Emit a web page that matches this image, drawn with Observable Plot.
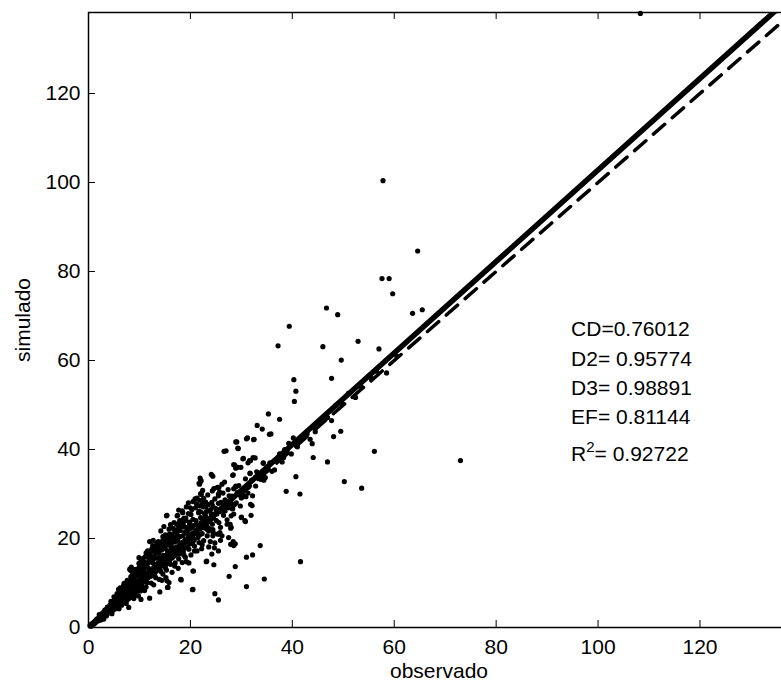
<!DOCTYPE html>
<html><head><meta charset="utf-8">
<script src="https://cdn.jsdelivr.net/npm/d3@7"></script>
<script src="https://cdn.jsdelivr.net/npm/@observablehq/plot@0.6"></script>
<style>body{margin:0;background:#fff}</style>
</head><body><div id="chart"></div>
<script>
// [observado, simulado]
const puntosDispersos = [
[108.3,138.0],[57.8,100.4],[64.6,84.6],[57.6,78.4],[59.0,78.4],[59.7,75.0],[46.7,71.8],[48.9,70.3],
[39.4,67.7],[63.6,70.6],[65.5,71.4],[37.2,63.3],[46.0,63.1],[52.9,64.3],[57.0,62.6],[49.6,60.1],
[40.3,55.7],[47.7,56.0],[40.7,53.1],[40.4,50.8],[52.3,51.8],[35.3,48.0],[37.5,46.8],[33.1,45.4],
[34.1,44.6],[35.8,43.5],[31.0,42.4],[32.4,42.2],[28.9,41.7],[29.4,40.2],[26.6,39.6],[27.0,39.7],
[30.3,37.9],[31.6,37.5],[31.3,37.0],[32.7,38.1],[34.3,37.0],[28.7,36.5],[28.9,35.8],[29.9,36.0],
[31.7,34.6],[28.3,34.2],[24.1,34.4],[24.4,34.0],[21.9,33.6],[22.1,33.0],[26.7,32.7],[25.3,31.5],
[28.9,31.6],[22.1,29.9],[25.5,30.0],[34.7,33.7],[30.9,29.4],[40.7,33.9],[38.8,30.6],[41.5,30.0],
[43.9,41.3],[44.1,38.2],[46.9,37.2],[48.1,42.9],[49.5,44.1],[50.2,32.8],[53.6,31.3],[56.1,39.6],
[73.0,37.5],[41.6,14.8],[34.5,10.9],[31.0,9.2],[24.8,7.6],[25.5,6.2],[33.7,18.4],[32.2,16.3],
[31.0,15.8],[28.8,13.7],[27.6,11.5],[23.1,14.8],[24.6,14.1],[20.4,8.5],[18.2,10.7],[20.6,12.7],
[15.8,10.1],[15.5,9.0],[28.4,19.3],[28.8,18.8],[22.3,18.6],[24.7,17.9],[25.5,17.2],[24.2,16.5],
[25.8,21.3],[23.6,21.7],[24.4,20.6],[27.8,23.2],[28.0,22.5],[30.0,24.8],[30.8,23.8],[28.3,26.7],
[28.0,25.1],[32.1,27.4],[31.9,25.2],
[35.5,43.4],[29.1,41.7],[31.2,42.6],[32.5,42.3],[29.3,40.3],[30.4,38.0],[31.8,37.5],[32.3,38.2],
[28.5,36.6],[29.3,36.0],[28.4,34.3],[31.7,34.7],[32.8,33.8],[34.3,36.9],[22.0,32.8],[21.8,32.2],
[25.6,31.5],[25.7,30.5],[25.5,29.6],[22.0,30.1],[21.2,27.8],[22.0,27.3],[23.0,27.1],[23.4,26.2],
[24.2,28.1],[24.4,27.3],[25.0,26.7],[26.8,28.7],[28.9,31.8],[30.6,29.5],[31.8,27.7],[28.2,26.7],
[28.5,25.5],[30.0,24.7],[30.7,24.0],[15.3,25.1],[17.4,25.1],[18.4,26.2],[18.7,24.5],[19.7,22.7],
[20.4,22.5],[22.0,24.7],[22.8,25.5],[23.8,22.1],[24.5,21.3],[25.3,21.0],[25.9,22.5],[27.2,23.2],
[27.9,22.3],[27.5,20.2],[27.9,18.7],[25.6,21.0],[25.9,19.6],[22.6,24.0],[22.9,23.2],[23.4,22.5],
[17.0,21.7],[17.7,22.5],[18.4,22.8],[19.3,21.7],[16.0,19.8],[15.3,19.5],[14.1,18.7],[20.7,19.8],
[21.7,19.1],[22.6,19.5],[23.9,19.3],[28.5,18.4],
[21.7,32.4],[22.1,30.0],[19.6,28.0],[20.5,28.3],[21.6,27.4],[22.6,27.1],[15.4,25.2],[17.5,25.2],
[18.5,25.8],[19.1,24.6],[18.3,24.0],[22.9,25.3],[22.6,23.2],[17.3,21.7],[17.9,21.9],[18.8,22.6],
[19.4,22.5],[12.0,19.3],[13.7,19.3],[14.3,18.7],[12.4,17.6],[13.2,18.0],[11.3,16.8],[15.9,20.1],
[16.4,21.0],[17.1,19.8],[14.9,18.0],[15.5,17.2],[16.3,17.8],[19.6,19.8],[20.4,18.9],[20.8,17.2],
[19.2,14.8],[19.7,14.5],[17.8,16.5],[18.6,17.1],[17.0,14.5],[23.2,14.9],[20.5,12.7],[18.1,10.8],
[15.2,11.2],[15.6,9.0],[20.5,8.6],[12.0,6.6],[7.9,4.5],[8.1,13.1],[8.5,12.7],[10.0,13.5],
[10.5,14.2],[5.9,8.6],[6.5,8.6],[9.8,7.1],[10.3,6.3],[14.0,8.0],[14.4,10.6],[8.2,12.9],[15.4,10.5],
[40.2,42.6],[39.8,39.0],[39.0,39.7],[42.9,43.5],[46.9,47.2],[52.4,51.7],[49.8,50.2],[44.5,44.0],
[55.5,56.0],[60.5,61.0],[36.5,37.5],[38.5,40.0]
];
const puntosBanda = [
[0.3,0.4],[0.5,0.3],[0.6,0.8],[0.8,0.6],[1.0,1.1],[1.1,0.8],[1.3,1.5],[1.4,1.1],[1.6,1.9],[1.7,1.4],
[1.9,2.0],[2.0,1.6],[2.2,2.6],[2.3,2.0],[2.5,2.4],[2.6,3.1],[2.8,2.3],[3.0,3.5],[3.1,2.7],[3.3,3.2],
[3.4,4.0],[3.6,3.0],[3.8,4.4],[3.9,3.5],[4.1,4.0],[4.2,5.0],[4.4,3.7],[4.6,5.3],[4.7,4.4],[4.9,4.1],
[5.0,5.9],[5.2,5.0],[5.3,4.5],[5.5,6.6],[5.6,5.3],[5.8,6.0],[5.9,4.9],[6.1,7.3],[6.2,6.3],[6.4,5.6],
[6.5,8.0],[6.6,6.8],[6.8,6.1],[7.0,8.6],[7.1,7.2],[7.2,6.4],[7.4,9.1],[7.5,7.8],[7.7,6.9],[7.9,8.4],
[8.0,9.8],[8.1,7.3],[8.3,8.9],[8.4,10.4],[8.6,7.7],[8.7,9.4],[8.9,11.0],[9.0,8.4],[9.2,9.9],[9.3,12.3],
[9.5,8.8],[9.6,10.5],[9.8,11.6],[9.9,9.2],[10.1,10.8],[10.2,12.4],[10.4,9.6],[10.5,11.3],[10.7,13.2],[10.8,10.2],
[11.0,11.8],[11.1,13.6],[11.3,10.6],[11.4,12.1],[11.6,14.4],[11.7,11.2],[11.9,12.6],[12.0,15.1],[12.2,11.5],[12.3,13.0],
[12.5,14.6],[12.6,12.0],[12.8,13.5],[12.9,16.0],[13.1,12.4],[13.2,14.2],[13.4,15.6],[13.5,12.9],[13.7,14.5],[13.8,16.7],
[14.0,13.2],[14.1,15.0],[14.3,17.4],[14.4,13.9],[14.6,15.3],[14.7,16.2],[14.9,14.0],[15.0,17.8],[15.2,15.8],[15.4,14.3],
[15.5,16.5],[15.7,18.5],[15.9,15.1],[16.0,16.9],[16.2,19.0],[16.4,15.6],[16.6,17.4],[16.8,20.3],[17.0,16.2],[17.2,18.0],
[17.4,20.9],[17.6,16.6],[17.8,18.5],[18.0,21.8],[18.2,17.2],[18.4,19.1],[18.6,23.0],[18.8,17.8],[19.0,19.7],[19.2,21.2],
[19.4,18.1],[19.6,20.3],[19.8,23.6],[20.0,18.8],[20.2,21.0],[20.5,24.3],[20.7,19.6],[21.0,21.6],[21.2,23.1],[21.5,20.2],
[21.8,22.4],[22.0,26.0],[22.3,21.1],[22.6,23.1],[23.0,24.8],[23.3,22.0],[23.6,24.0],[24.0,26.5],[24.3,23.2],[24.7,25.3],
[25.1,24.0],[25.5,27.9],[26.0,26.4],[26.5,25.2],[27.0,28.3],[27.5,26.9],[28.1,29.5],[28.6,27.6],[29.2,30.3],[30.0,29.1],
[30.6,31.4],[31.3,30.2],[32.0,33.1],[32.8,31.8],[33.5,34.6],[34.4,33.1],[35.2,36.0],[36.0,35.1],[37.1,37.8],[38.0,37.2]
];
const puntosDensos = [
[2.1,2.9],[2.4,1.7],[2.7,2.9],[3.2,3.9],[3.5,2.6],[3.7,4.6],[4.0,3.3],[4.3,4.6],[4.5,5.6],[4.8,3.9],
[5.1,6.3],[5.4,4.3],[5.7,7.0],[6.0,5.2],[6.3,7.8],[6.7,5.5],[6.9,7.7],[7.3,8.0],[7.6,6.2],[7.8,9.6],
[8.2,8.5],[8.5,6.9],[8.8,10.1],[9.1,11.5],[9.4,8.1],[9.7,12.9],[10.0,10.2],[10.3,11.9],[10.6,9.0],[10.9,12.8],
[11.2,14.6],[11.5,10.1],[11.8,13.3],[12.1,16.1],[12.4,12.2],[12.7,15.3],[13.0,11.6],[13.3,16.8],[13.6,13.8],[13.9,15.7],
[14.2,12.6],[14.5,17.6],[14.8,15.5],[15.1,13.4],[15.3,18.9],[15.6,16.0],[15.8,17.1],[16.1,14.2],[16.3,18.2],[16.5,20.1],
[16.7,16.0],[16.9,19.2],[17.1,21.6],[17.3,17.1],[17.5,19.6],[17.7,15.4],[17.9,20.4],[18.1,22.9],[18.3,18.0],[18.5,20.6],
[18.7,16.3],[18.9,21.4],[19.1,24.1],[19.3,19.2],[19.5,21.8],[19.7,17.6],[19.9,22.2],[20.1,25.4],[20.3,20.0],[20.6,22.9],
[20.8,18.3],[21.1,24.0],[21.3,21.2],[21.6,25.8],[21.9,20.9],[22.1,23.6],[22.4,27.9],[22.7,22.4],[23.0,25.9],[23.3,20.6],
[23.5,27.6],[23.8,23.9],[24.1,25.4],[24.4,22.0],[24.8,28.9],[25.2,25.5],[25.6,23.6],[26.0,28.1],[26.4,30.2],[26.8,26.2],
[27.2,24.2],[27.6,29.6],[28.0,27.8],[28.5,31.2],[29.0,28.0],[29.5,31.9],[29.8,27.3],[30.3,30.7],[30.8,33.4],[31.4,31.6],
[32.2,29.6],[33.0,35.0],[33.8,33.3],[34.6,35.4],[35.6,37.0],[36.5,35.4],[37.5,39.0],[38.3,38.2],[39.3,41.4],[41.0,40.6],
[41.8,42.9],[43.5,42.3],[45.2,46.1],[47.7,46.5],[48.5,49.9],[51.0,52.6],[53.5,54.0],[56.5,57.6],[58.5,57.2],
[9.0,13.0],[9.9,14.4],[10.8,15.6],[11.6,17.2],[12.6,18.4],[13.4,18.9],[14.6,20.4],[15.8,22.1],[16.8,23.6],[17.9,24.0],
[3.0,1.9],[4.6,3.1],[6.0,4.2],[7.4,5.4],[8.9,6.5],[11.0,8.3],[12.8,9.6],[13.9,10.8],[16.4,12.4],[17.6,13.3]
];
const puntosNucleo = [
[4.4,5.9],[5.0,6.9],[5.6,7.6],[6.2,8.9],[6.9,9.5],[7.6,10.6],[8.3,11.4],[8.8,12.2],[9.5,13.1],[10.1,14.6],
[10.6,14.9],[11.2,16.0],[11.9,16.9],[12.4,17.0],[13.0,17.7],[13.8,18.4],[14.5,19.4],[15.1,20.8],[15.9,21.0],[16.6,22.3],
[17.3,23.2],[18.1,23.3],[18.9,24.4],[19.6,25.6],[20.3,26.5],[21.0,26.9],[21.8,28.6],[22.6,29.0],[23.4,29.8],[24.3,30.7],
[5.3,4.2],[6.5,5.0],[7.2,5.7],[8.0,6.6],[9.3,7.4],[10.2,8.2],[11.3,9.1],[12.3,10.0],[13.2,11.2],[14.6,12.0],
[15.3,12.9],[16.9,13.8],[18.4,14.6],[19.0,15.8],[20.1,16.3],[21.3,17.2],[22.2,17.7],[23.6,18.1],[24.8,19.0],[26.2,20.6],
[6.7,7.0],[7.8,7.5],[8.7,8.8],[9.6,9.5],[10.4,10.4],[11.6,11.6],[12.2,12.6],[13.1,13.2],[13.9,14.2],[14.8,14.9],
[15.6,15.6],[16.5,16.7],[17.4,17.6],[18.3,18.5],[19.1,19.4],[20.0,20.4],[20.9,21.2],[21.8,22.1],[22.7,23.0],[23.6,24.1],
[24.5,24.7],[25.4,26.1],[26.3,26.9],[27.2,27.7],[7.0,9.9],[8.6,11.8],[10.2,13.9],[11.8,15.6],[13.6,17.5],[15.4,19.9],
[17.0,21.9],[18.7,23.8],[20.0,26.9],[21.3,29.1],[23.0,28.2],[24.6,31.2],[26.2,32.2],[27.4,31.0],[12.7,19.6],[14.2,21.7],
[16.1,23.1],[19.2,27.1],[20.9,28.9],[17.7,26.4],[14.8,22.7],[22.4,30.8],[9.9,15.7],[8.4,13.6],[19.9,23.7],[21.7,26.1]
];
const xTicks = [0, 20, 40, 60, 80, 100, 120];
const yTicks = [0, 20, 40, 60, 80, 100, 120];
const xLabel = "observado";
const yLabel = "simulado";
const statLabels = ["CD=0.76012", "D2= 0.95774", "D3= 0.98891", "EF= 0.81144", "R²= 0.92722"];
const fitSlope = 1.028, fitIntercept = 0;   // línea ajustada (sólida)

// layout
const W = 781, H = 681, mL = 88, mR = 0, mT = 12, mB = 54;
const fw = W - mL - mR, fh = H - mT - mB;
const xDomain = [0, 136], yDomain = [0, 138.2];
const statX = 94.7, statY = [67.1, 60.3, 53.8, 47.2, 38.9];

const puntos = puntosDispersos.concat(puntosBanda, puntosDensos, puntosNucleo).map(([x, y]) => ({x, y}));
const fitLine = xDomain.map(x => ({x, y: fitSlope * x + fitIntercept}));
const oneToOne = xDomain.map(x => ({x, y: x}));
const stats = statLabels.map((t, i) => ({t, x: statX, y: statY[i]}));

const chart = Plot.plot({
  width: W, height: H,
  marginLeft: mL, marginRight: mR, marginTop: mT, marginBottom: mB,
  style: {fontFamily: "'Liberation Sans', Arial, Helvetica, sans-serif", fontSize: "21px", color: "black", background: "white"},
  x: {domain: xDomain},
  y: {domain: yDomain},
  marks: [
    Plot.axisX({ticks: xTicks, tickSize: 0, tickPadding: 12, label: null, tickFormat: d => String(d)}),
    Plot.axisY({ticks: yTicks, tickSize: 0, tickPadding: 8, label: null, tickFormat: d => String(d)}),
    Plot.ruleX(xTicks, {x: d => d, insetTop: fh - 7, stroke: "black", strokeWidth: 1}),
    Plot.ruleX(xTicks, {x: d => d, insetBottom: fh - 7, stroke: "black", strokeWidth: 1}),
    Plot.ruleY(yTicks, {y: d => d, insetRight: fw - 7, stroke: "black", strokeWidth: 1}),
    Plot.dot(puntos, {x: "x", y: "y", r: 2.6, fill: "black"}),
    Plot.line(oneToOne, {x: "x", y: "y", stroke: "black", strokeWidth: 3.5, strokeDasharray: "15,10", clip: true}),
    Plot.line(fitLine, {x: "x", y: "y", stroke: "black", strokeWidth: 5.5, clip: true}),
    Plot.ruleX([xDomain[0]], {stroke: "black", strokeWidth: 1.5}),
    Plot.ruleY([yDomain[0]], {stroke: "black", strokeWidth: 1.5}),
    Plot.ruleY([yDomain[1]], {stroke: "black", strokeWidth: 1.5}),
    Plot.text(stats, {x: "x", y: "y", text: "t", textAnchor: "start", fill: "black"}),
    Plot.text([xLabel], {frameAnchor: "bottom", lineAnchor: "bottom", dy: 50, dx: 4, fill: "black"}),
    Plot.text([yLabel], {frameAnchor: "left", textAnchor: "middle", lineAnchor: "middle", rotate: -90, dx: -65, fill: "black"})
  ]
});
// superíndice de R²
d3.select(chart).selectAll("text")
  .filter(function() { return this.textContent === statLabels[4]; })
  .each(function() {
    const t = d3.select(this);
    const rest = statLabels[4].slice(2);
    t.text(null);
    t.append("tspan").text("R");
    t.append("tspan").attr("dy", -9).attr("font-size", "15px").text("2");
    t.append("tspan").attr("dy", 9).text(rest);
  });
document.getElementById("chart").appendChild(chart);
</script>
</body></html>
